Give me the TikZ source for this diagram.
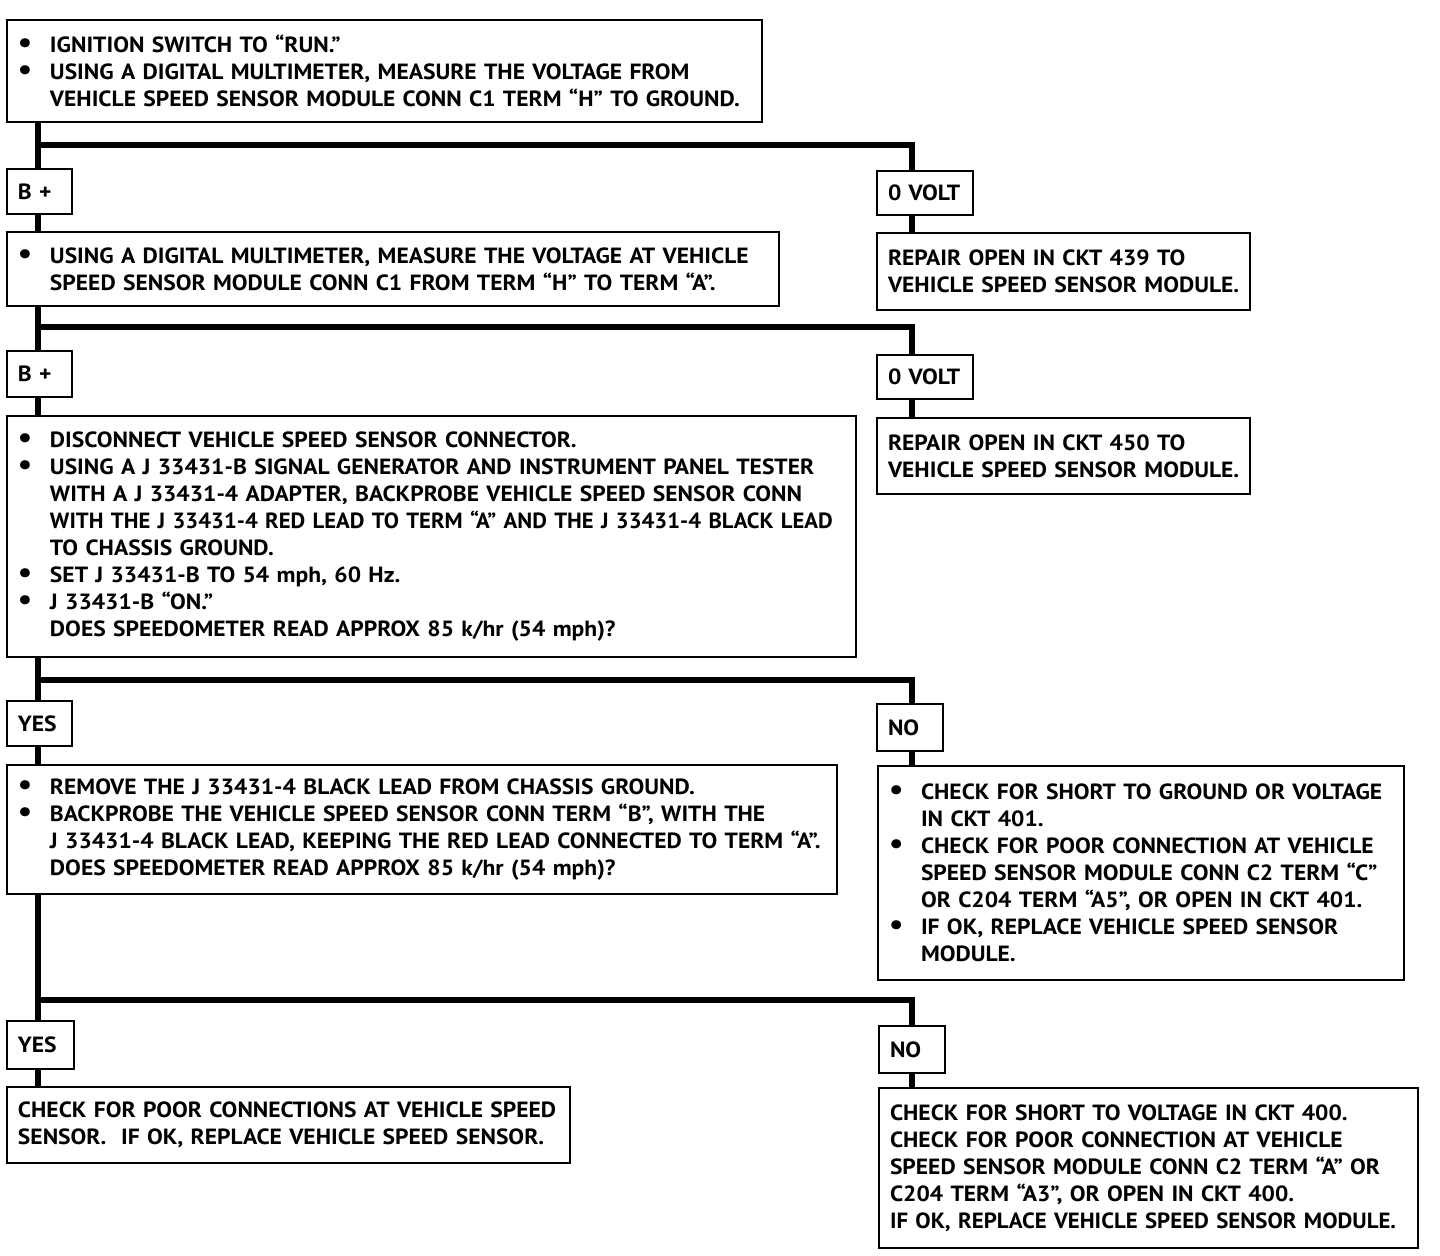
\documentclass[tikz,border=0pt]{standalone}
\usepackage{fontspec}
\setmainfont{PT Sans}[FakeStretch=1.07]
\newcommand{\B}[1]{\makebox[16pt][l]{\scalebox{1.35}{\textbullet}}\mbox{#1}}
\newcommand{\C}[1]{\hspace*{16pt}\mbox{#1}}
\newcommand{\Ln}[1]{\mbox{#1}}
\tikzset{
  box/.style={draw, line width=1pt, rectangle, inner xsep=5.5pt, inner ysep=0pt,
    align=left, font=\bfseries\fontsize{11}{13.5}\selectfont},
  conn/.style={line width=3pt, line join=miter},
}
\newcommand{\bx}[6]{% name, x, y, w, h, text
  \node[box, minimum width=#4*0.5pt, minimum height=#5*0.5pt, text width=#4*0.5pt-11pt] (#1) at (#2,#3) {#6};}
\begin{document}
\begin{tikzpicture}[x=0.5pt, y=-0.5pt]
\useasboundingbox[fill=white] (0,0) rectangle (1440,1256);
\coordinate (tx) at (38,0);
\coordinate (rx) at (912,0);
\coordinate (j1) at (0,145);
\coordinate (j2) at (0,327);
\coordinate (j3) at (0,680);
\coordinate (j4) at (0,1000);

\bx{box1}{384.5}{71}{755}{102}{\B{IGNITION SWITCH TO “RUN.”}\\
\B{USING A DIGITAL MULTIMETER, MEASURE THE VOLTAGE FROM}\\
\C{VEHICLE SPEED SENSOR MODULE CONN C1 TERM “H” TO GROUND.}}
\bx{bp1}{39.5}{192}{65}{45}{\Ln{B +}}
\bx{ov1}{925}{193}{96}{44}{\Ln{0 VOLT}}
\bx{box2}{393}{269}{772}{74}{\B{USING A DIGITAL MULTIMETER, MEASURE THE VOLTAGE AT VEHICLE}\\
\C{SPEED SENSOR MODULE CONN C1 FROM TERM “H” TO TERM “A”.}}
\bx{r439}{1063.5}{271.5}{373}{77}{\Ln{REPAIR OPEN IN CKT 439 TO}\\\Ln{VEHICLE SPEED SENSOR MODULE.}}
\bx{bp2}{39.5}{374}{65}{46}{\Ln{B +}}
\bx{ov2}{925}{377}{96}{44}{\Ln{0 VOLT}}
\bx{box3}{431.5}{536.5}{849}{241}{\B{DISCONNECT VEHICLE SPEED SENSOR CONNECTOR.}\\
\B{USING A J 33431-B SIGNAL GENERATOR AND INSTRUMENT PANEL TESTER}\\
\C{WITH A J 33431-4 ADAPTER, BACKPROBE VEHICLE SPEED SENSOR CONN}\\
\C{\addfontfeature{FakeStretch=1.03}WITH THE J 33431-4 RED LEAD TO TERM “A” AND THE J 33431-4 BLACK LEAD}\\
\C{TO CHASSIS GROUND.}\\
\B{SET J 33431-B TO 54 mph, 60 Hz.}\\
\B{J 33431-B “ON.”}\\
\C{DOES SPEEDOMETER READ APPROX 85 k/hr (54 mph)?}}
\bx{r450}{1063.5}{456}{373}{76}{\Ln{REPAIR OPEN IN CKT 450 TO}\\\Ln{VEHICLE SPEED SENSOR MODULE.}}
\bx{yes1}{39.5}{723.5}{65}{45}{\Ln{YES}}
\bx{no1}{910}{727.5}{66}{47}{\Ln{NO}}
\bx{box4}{422}{829.5}{830}{129}{\B{REMOVE THE J 33431-4 BLACK LEAD FROM CHASSIS GROUND.}\\
\B{BACKPROBE THE VEHICLE SPEED SENSOR CONN TERM “B”, WITH THE}\\
\C{J 33431-4 BLACK LEAD, KEEPING THE RED LEAD CONNECTED TO TERM “A”.}\\
\C{DOES SPEEDOMETER READ APPROX 85 k/hr (54 mph)?}}
\bx{box4r}{1141}{873}{526}{214}{\B{CHECK FOR SHORT TO GROUND OR VOLTAGE}\\
\C{IN CKT 401.}\\
\B{CHECK FOR POOR CONNECTION AT VEHICLE}\\
\C{SPEED SENSOR MODULE CONN C2 TERM “C”}\\
\C{OR C204 TERM “A5”, OR OPEN IN CKT 401.}\\
\B{IF OK, REPLACE VEHICLE SPEED SENSOR}\\
\C{MODULE.}}
\bx{yes2}{40.5}{1045}{67}{48}{\Ln{YES}}
\bx{no2}{912}{1049.5}{66}{47}{\Ln{NO}}
\bx{box5}{288.5}{1125}{563}{76}{\Ln{CHECK FOR POOR CONNECTIONS AT VEHICLE SPEED}\\\Ln{SENSOR.\ \ IF OK, REPLACE VEHICLE SPEED SENSOR.}}
\bx{box6}{1148.5}{1168}{539}{160}{\Ln{CHECK FOR SHORT TO VOLTAGE IN CKT 400.}\\
\Ln{CHECK FOR POOR CONNECTION AT VEHICLE}\\
\Ln{SPEED SENSOR MODULE CONN C2 TERM “A” OR}\\
\Ln{C204 TERM “A3”, OR OPEN IN CKT 400.}\\
\Ln{\addfontfeature{FakeStretch=1.04}IF OK, REPLACE VEHICLE SPEED SENSOR MODULE.}}

% trunk
\draw[conn] (box1.south -| tx) -- (bp1.north -| tx);
\draw[conn] (bp1.south -| tx) -- (box2.north -| tx);
\draw[conn] (box2.south -| tx) -- (bp2.north -| tx);
\draw[conn] (bp2.south -| tx) -- (box3.north -| tx);
\draw[conn] (box3.south -| tx) -- (yes1.north -| tx);
\draw[conn] (yes1.south -| tx) -- (box4.north -| tx);
\draw[conn] (box4.south -| tx) -- (yes2.north -| tx);
\draw[conn] (yes2.south -| tx) -- (box5.north -| tx);
% branches
\draw[conn] (tx |- j1) -| (ov1.north -| rx);
\draw[conn] (tx |- j2) -| (ov2.north -| rx);
\draw[conn] (tx |- j3) -| (no1.north -| rx);
\draw[conn] (tx |- j4) -| (no2.north -| rx);
\draw[conn] (ov1.south -| rx) -- (r439.north -| rx);
\draw[conn] (ov2.south -| rx) -- (r450.north -| rx);
\draw[conn] (no1.south -| rx) -- (box4r.north -| rx);
\draw[conn] (no2.south -| rx) -- (box6.north -| rx);
\end{tikzpicture}
\end{document}
